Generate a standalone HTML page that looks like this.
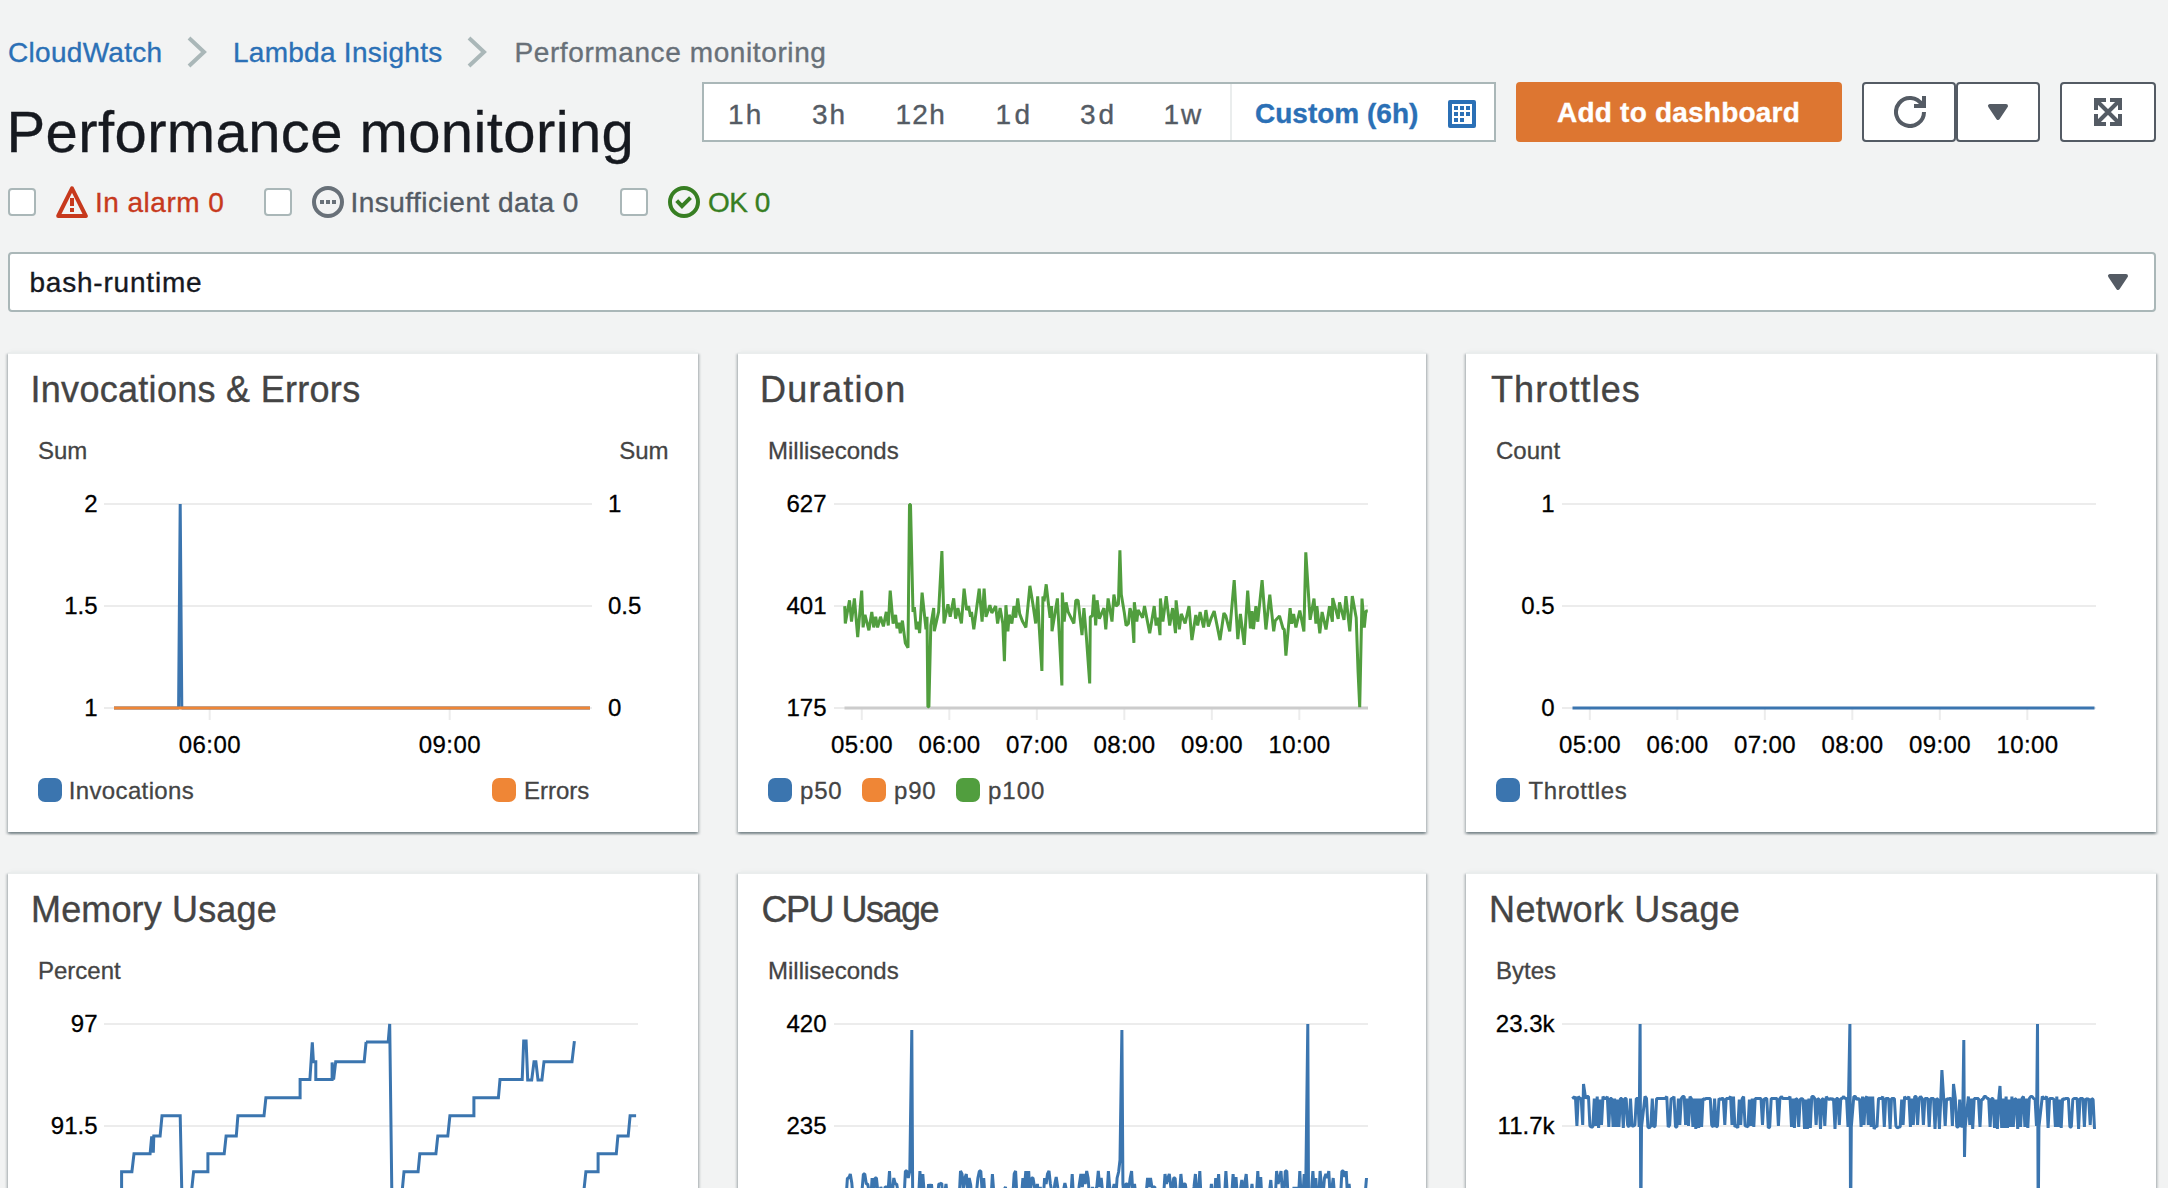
<!DOCTYPE html>
<html lang="en">
<head>
<meta charset="utf-8">
<title>CloudWatch - Lambda Insights - Performance monitoring</title>
<style>
*{box-sizing:border-box}
html,body{margin:0;padding:0}
body{-webkit-text-stroke:.35px;background:#f2f3f3;font-family:"Liberation Sans",sans-serif;color:#16191f;width:2168px;height:1188px;overflow:hidden}
#app{position:relative;width:2168px;height:1188px;overflow:hidden}
.abs{position:absolute;white-space:nowrap;line-height:1}
/* breadcrumb */
.bc{font-size:28px;top:39px}
.bc a,.lnk{color:#2b70b6;text-decoration:none}
.bc.cur{color:#687078}
.chev{position:absolute;top:36px;width:22px;height:32px}
/* title */
h1{position:absolute;margin:0;left:6.5px;top:102.5px;letter-spacing:.4px;font-size:58px;-webkit-text-stroke:.3px #16191f;font-weight:400;line-height:1;color:#16191f;white-space:nowrap}
/* time range */
.range{position:absolute;left:702px;top:82px;width:794px;height:60px;background:#fff;border:2px solid #aab7b8}
.range span{position:absolute;top:17px;font-size:28px;line-height:1;color:#545b64;white-space:nowrap}
.range .sep{position:absolute;left:526px;top:0;width:2px;height:56px;background:#eaeded}
.range .cus{font-weight:700;color:#2b70b6}
.range svg{position:absolute;left:744px;top:16px}
/* buttons */
.btn{position:absolute;top:82px;height:60px;border-radius:4px}
.btn.primary{left:1516px;width:326px;background:#dd7631;color:#fff;font-weight:700;font-size:28px;line-height:1}
.btn.primary span{position:absolute;left:41px;top:16.5px;letter-spacing:.22px;white-space:nowrap}
.btn.ic{background:#fff;border:2px solid #545b64}
.btn.ic svg{position:absolute}
/* alarms */
.cb{position:absolute;top:188px;width:28px;height:28px;background:#fff;border:2px solid #aab7b8;border-radius:4px}
.st{position:absolute;top:189px;font-size:28px;line-height:1;white-space:nowrap}
.sti{position:absolute;top:186px;width:32px;height:32px}
/* select */
.select{position:absolute;left:8px;top:252px;width:2148px;height:60px;background:#fff;border:2px solid #aab7b8;border-radius:4px}
.select span{position:absolute;left:19.4px;top:15px;letter-spacing:.8px;font-size:28px;line-height:1;color:#16191f}
.select svg{position:absolute;left:2096px;top:18px}
/* panels */
.panel{position:absolute;background:#fff;border-top:2px solid #eaeded;box-shadow:0 2px 2px 0 rgba(0,28,36,.3),2px 2px 2px 0 rgba(0,28,36,.15),-2px 2px 2px 0 rgba(0,28,36,.15),0 -3px 3px -2px #e9ecec}
.panel h2{position:absolute;margin:0;left:24px;top:18px;font-size:36px;font-weight:400;line-height:1;color:#444;white-space:nowrap}
.chart{position:absolute;left:0;top:0;overflow:visible;font-family:"Liberation Sans",sans-serif}
.tk{font-size:24px;fill:#000;stroke:#000;stroke-width:.3px}
.un{font-size:24px;fill:#444;stroke:#444;stroke-width:.3px}
.lg{font-size:24px;fill:#444;stroke:#444;stroke-width:.3px}

</style>
</head>
<body>
<div id="app">
<nav aria-label="Breadcrumbs">
<span class="abs bc" style="left:8px;letter-spacing:.3px"><a>CloudWatch</a></span>
<svg class="chev" style="left:186px" viewBox="0 0 22 32"><path d="M3 2 L18 16 L3 30" fill="none" stroke="#aab7b8" stroke-width="4"/></svg>
<span class="abs bc" style="left:233px;letter-spacing:.27px"><a>Lambda Insights</a></span>
<svg class="chev" style="left:466px" viewBox="0 0 22 32"><path d="M3 2 L18 16 L3 30" fill="none" stroke="#aab7b8" stroke-width="4"/></svg>
<span class="abs bc cur" style="left:514.5px;letter-spacing:.6px">Performance monitoring</span>
</nav>
<h1>Performance monitoring</h1>
<div class="range" role="group">
<span style="left:24px;letter-spacing:2.2px">1h</span>
<span style="left:108px;letter-spacing:2px">3h</span>
<span style="left:191.5px;letter-spacing:1.3px">12h</span>
<span style="left:291.5px;letter-spacing:3.5px">1d</span>
<span style="left:376px;letter-spacing:3px">3d</span>
<span style="left:459.5px;letter-spacing:2px">1w</span>
<i class="sep"></i>
<span class="cus" style="left:551px;top:16px">Custom (6h)</span>
<svg width="28" height="28" viewBox="0 0 28 28"><rect x="2" y="2" width="24" height="24" fill="none" stroke="#2b70b6" stroke-width="4" stroke-linejoin="round"/><g fill="#2b70b6"><rect x="6" y="6" width="4" height="4"/><rect x="12" y="6" width="4" height="4"/><rect x="18" y="6" width="4" height="4"/><rect x="6" y="12" width="4" height="4"/><rect x="12" y="12" width="4" height="4"/><rect x="18" y="12" width="4" height="4"/><rect x="6" y="18" width="4" height="4"/><rect x="12" y="18" width="4" height="4"/></g></svg>
</div>
<button class="btn primary" style="border:0;padding:0;font-family:inherit"><span>Add to dashboard</span></button>
<div class="btn ic" style="left:1862px;width:94px"><svg style="left:30px;top:12px" width="32" height="32" viewBox="0 0 16 16"><path d="M15 8a7 7 0 1 1-1-3.6" fill="none" stroke="#545b64" stroke-width="2"/><path d="M15 0v5h-5" fill="none" stroke="#545b64" stroke-width="2"/></svg></div>
<div class="btn ic" style="left:1956px;width:84px"><svg style="left:28px;top:18px" width="24" height="20" viewBox="0 0 24 20"><path d="M4 4h16l-8 12z" fill="#545b64" stroke="#545b64" stroke-width="4" stroke-linejoin="round"/></svg></div>
<div class="btn ic" style="left:2060px;width:96px"><svg style="left:32px;top:14px" width="28" height="28" viewBox="0 0 28 28"><g fill="none" stroke="#545b64" stroke-width="4"><path d="M2 12V2h10M16 2h10v10M26 16v10H16M12 26H2V16"/><path d="M3 3l22 22M25 3L3 25"/></g></svg></div>

<div class="cb" style="left:8px"></div>
<svg class="sti" style="left:56px" viewBox="0 0 16 16"><path d="M8 1.2 L14.9 15 H1.1 Z" fill="none" stroke="#c7391d" stroke-width="2" stroke-linejoin="round"/><rect x="7" y="6" width="2" height="4" fill="#c7391d"/><rect x="7" y="11" width="2" height="2" fill="#c7391d"/></svg>
<span class="st" style="left:95px;color:#c7391d;letter-spacing:.48px">In alarm 0</span>
<div class="cb" style="left:264px"></div>
<svg class="sti" style="left:312px" viewBox="0 0 16 16"><circle cx="8" cy="8" r="7" fill="none" stroke="#687078" stroke-width="2"/><rect x="4" y="7" width="2" height="2" fill="#687078"/><rect x="7" y="7" width="2" height="2" fill="#687078"/><rect x="10" y="7" width="2" height="2" fill="#687078"/></svg>
<span class="st" style="left:350.4px;color:#545b64;letter-spacing:.5px">Insufficient data 0</span>
<div class="cb" style="left:620px"></div>
<svg class="sti" style="left:668px" viewBox="0 0 16 16"><circle cx="8" cy="8" r="7" fill="none" stroke="#377e22" stroke-width="2"/><path d="M4.35 7.3 L7 10.1 L11.25 5.85" fill="none" stroke="#377e22" stroke-width="2"/></svg>
<span class="st" style="left:708px;color:#377e22;letter-spacing:-.5px">OK 0</span>

<div class="select" role="combobox"><span>bash-runtime</span><svg width="24" height="20" viewBox="0 0 24 20"><path d="M4 4h16l-8 12z" fill="#545b64" stroke="#545b64" stroke-width="4" stroke-linejoin="round"/></svg></div>

<main class="grid">
<section class="panel" style="left:8px;top:352px;width:690px;height:480px"><h2 style="left:22.5px;letter-spacing:0.29px">Invocations &amp; Errors</h2><svg class="chart" width="690" height="480" viewBox="8 354 690 480"><text x="38" y="459" class="un">Sum</text><text x="668.5" y="459" text-anchor="end" class="un">Sum</text><line x1="104" x2="592" y1="504" y2="504" stroke="#ececec" stroke-width="2"/><line x1="104" x2="592" y1="606" y2="606" stroke="#ececec" stroke-width="2"/><line x1="104" x2="592" y1="708" y2="708" stroke="#ececec" stroke-width="2"/><text x="97.5" y="512" text-anchor="end" class="tk">2</text><text x="97.5" y="614" text-anchor="end" class="tk">1.5</text><text x="97.5" y="716" text-anchor="end" class="tk">1</text><text x="608" y="512" text-anchor="start" class="tk">1</text><text x="608" y="614" text-anchor="start" class="tk">0.5</text><text x="608" y="716" text-anchor="start" class="tk">0</text><line x1="209.7" x2="209.7" y1="708" y2="720" stroke="#ececec" stroke-width="2"/><text x="209.89999999999998" y="752.5" text-anchor="middle" class="tk" letter-spacing=".4">06:00</text><line x1="449.7" x2="449.7" y1="708" y2="720" stroke="#ececec" stroke-width="2"/><text x="449.9" y="752.5" text-anchor="middle" class="tk" letter-spacing=".4">09:00</text><path d="M114 708 L178.6 708 L180.2 504 L181.8 708 L590 708" fill="none" stroke="#3b75af" stroke-width="3" stroke-linejoin="miter" stroke-miterlimit="1"/><line x1="114" x2="590" y1="708" y2="708" stroke="#ef8636" stroke-width="3"/><rect x="38" y="778" width="24" height="24" rx="7" fill="#3b75af"/><text x="68.8" y="799" class="lg" letter-spacing="0.35">Invocations</text><rect x="492" y="778" width="24" height="24" rx="7" fill="#ef8636"/><text x="524" y="799" class="lg" letter-spacing="0">Errors</text></svg></section>
<section class="panel" style="left:738px;top:352px;width:688px;height:480px"><h2 style="left:22px;letter-spacing:1.3px">Duration</h2><svg class="chart" width="688" height="480" viewBox="738 354 688 480"><text x="768" y="459" class="un">Milliseconds</text><line x1="834" x2="1368" y1="504" y2="504" stroke="#ececec" stroke-width="2"/><line x1="834" x2="1368" y1="606" y2="606" stroke="#ececec" stroke-width="2"/><line x1="834" x2="1368" y1="708" y2="708" stroke="#ececec" stroke-width="2"/><text x="826.5" y="512" text-anchor="end" class="tk">627</text><text x="826.5" y="614" text-anchor="end" class="tk">401</text><text x="826.5" y="716" text-anchor="end" class="tk">175</text><line x1="861.8" x2="861.8" y1="708" y2="720" stroke="#ececec" stroke-width="2"/><text x="862.0" y="752.5" text-anchor="middle" class="tk" letter-spacing=".4">05:00</text><line x1="949.3" x2="949.3" y1="708" y2="720" stroke="#ececec" stroke-width="2"/><text x="949.5" y="752.5" text-anchor="middle" class="tk" letter-spacing=".4">06:00</text><line x1="1036.8" x2="1036.8" y1="708" y2="720" stroke="#ececec" stroke-width="2"/><text x="1037.0" y="752.5" text-anchor="middle" class="tk" letter-spacing=".4">07:00</text><line x1="1124.3" x2="1124.3" y1="708" y2="720" stroke="#ececec" stroke-width="2"/><text x="1124.5" y="752.5" text-anchor="middle" class="tk" letter-spacing=".4">08:00</text><line x1="1211.8" x2="1211.8" y1="708" y2="720" stroke="#ececec" stroke-width="2"/><text x="1212.0" y="752.5" text-anchor="middle" class="tk" letter-spacing=".4">09:00</text><line x1="1299.3" x2="1299.3" y1="708" y2="720" stroke="#ececec" stroke-width="2"/><text x="1299.5" y="752.5" text-anchor="middle" class="tk" letter-spacing=".4">10:00</text><line x1="844.5" x2="1368" y1="708" y2="708" stroke="#ccc" stroke-width="3"/><path d="M844.7 606.1 L845.3 623.5 L849.5 600.3 L851.5 621.6 L854.4 598.4 L857.7 637.1 L861.7 590.6 L863.1 627.4 L865 614.8 L868.9 630.3 L871.8 611.9 L873.7 627.4 L875.7 616.8 L877.6 627.4 L880.5 616.8 L883.4 626.4 L886.3 611.9 L888.3 625.5 L890.2 590.6 L893.1 623.5 L895.6 614.8 L897 628.4 L898.9 622.6 L900.3 633.2 L902.4 620.6 L905.3 642.9 L908 647.7 L909.5 504.5 L910.5 504.5 L913 611.9 L914.4 607.1 L916.3 629.3 L918.3 621.6 L919.6 633.2 L922.1 592.6 L926 629.3 L927 616.8 L927.9 706.8 L928.9 706.8 L930.8 625.5 L933.7 608.1 L934.3 631.3 L938.6 611.9 L941.9 551 L944 623.5 L947.9 604.2 L950.2 616.8 L953.7 598.4 L955.6 618.7 L957.9 608.1 L961.4 623.5 L964.1 588.7 L966.6 610 L968.6 606.1 L970.5 616.8 L971.5 611.9 L973.8 629.3 L979.2 588.7 L982.1 621.6 L984.1 588.7 L986 616.8 L989.9 605.2 L991.8 612.9 L995.7 606.1 L997.6 623.5 L1000.1 608.1 L1002.8 623.5 L1004.4 661.3 L1005.9 605.2 L1007.9 631.3 L1009.2 614.8 L1011.9 623.5 L1013.9 606.1 L1015.8 617.7 L1017.7 598.4 L1019.7 613.9 L1022.6 621.6 L1025.9 627.4 L1029.9 585.8 L1033.2 606.1 L1035.7 623.5 L1037.7 596.4 L1039 623.5 L1041.9 671 L1042.9 596.4 L1044.1 601.3 L1046.2 584.3 L1048.7 606.1 L1050.1 617.7 L1051.6 606.1 L1052 631.3 L1057.4 598.4 L1060.7 662.2 L1061.9 685.5 L1062.3 592.6 L1064.2 621.6 L1066.1 602.3 L1068.1 611.9 L1073.9 623.5 L1075.8 600.3 L1078.1 600.3 L1082 635.2 L1083.9 608.1 L1086.4 637.1 L1089.7 683.5 L1090.3 616.8 L1092.3 615.8 L1093.8 594.5 L1095.7 625.5 L1097.1 600.3 L1099.4 618.7 L1103.9 608.1 L1105.8 629.3 L1108.1 598.4 L1112 621.6 L1113.9 594.5 L1116.1 606.1 L1118.4 604.2 L1119.9 550.4 L1121.3 594.5 L1124.2 611.9 L1126.1 625.5 L1128.4 623.5 L1130 608.1 L1131.9 613.9 L1133.9 642.9 L1134.3 602.3 L1136.8 621.6 L1138.1 610 L1142.6 617.7 L1144.5 606.1 L1149.7 633.2 L1154.2 606.1 L1156.1 625.5 L1158.1 617.7 L1160 635.2 L1160.4 598.4 L1162.9 621.6 L1166.2 596.1 L1169.7 625.5 L1172.6 608.1 L1175.5 633.2 L1176.1 600.3 L1179.3 629.3 L1181.3 613.9 L1185.1 623.5 L1189 606.1 L1191.9 640.1 L1195.8 614.9 L1197.7 625.6 L1200.1 612 L1203.6 627.5 L1205.9 610.1 L1208.4 626.5 L1211.3 617.8 L1214.2 611.1 L1220 640.1 L1223.9 613 L1225.8 615.9 L1229.7 631.4 L1234.2 580.1 L1237.8 639.1 L1240.4 614 L1244.2 644.9 L1247.7 590.7 L1250.4 628.5 L1252 611.1 L1253.5 629.1 L1255.9 606.2 L1257.8 621.7 L1262.1 580.1 L1265.9 629.5 L1269.8 594.6 L1273.7 631.4 L1275.2 620.7 L1279.5 615.9 L1283 628.5 L1284.3 629.5 L1285.9 655.6 L1290.1 608.1 L1291.7 623.6 L1293.6 614 L1295.9 627.5 L1299.8 610.5 L1303.9 631.4 L1305.8 552.4 L1310.1 619.8 L1314 598.5 L1315.9 623.6 L1316.9 606.2 L1319.8 633.3 L1322.1 612 L1326 629.5 L1329.5 606.2 L1332.4 621.7 L1332.7 598.1 L1338.2 618.8 L1339.5 602.3 L1344 619.8 L1345.9 596.1 L1349.8 631.4 L1352.3 596.1 L1356.2 617.8 L1358.1 672.1 L1359.7 707.3 L1362 598.5 L1364.3 627.5 L1365.9 611.1 L1367.8 611.1" fill="none" stroke="#519e3e" stroke-width="3" stroke-linejoin="bevel"/><rect x="768" y="778" width="24" height="24" rx="7" fill="#3b75af"/><text x="800" y="799" class="lg" letter-spacing="0.8">p50</text><rect x="862" y="778" width="24" height="24" rx="7" fill="#ef8636"/><text x="894" y="799" class="lg" letter-spacing="0.8">p90</text><rect x="956" y="778" width="24" height="24" rx="7" fill="#519e3e"/><text x="988" y="799" class="lg" letter-spacing="1">p100</text></svg></section>
<section class="panel" style="left:1466px;top:352px;width:690px;height:480px"><h2 style="left:25px;letter-spacing:1.1px">Throttles</h2><svg class="chart" width="690" height="480" viewBox="1466 354 690 480"><text x="1496" y="459" class="un">Count</text><line x1="1562" x2="2096" y1="504" y2="504" stroke="#ececec" stroke-width="2"/><line x1="1562" x2="2096" y1="606" y2="606" stroke="#ececec" stroke-width="2"/><line x1="1562" x2="2096" y1="708" y2="708" stroke="#ececec" stroke-width="2"/><text x="1554.5" y="512" text-anchor="end" class="tk">1</text><text x="1554.5" y="614" text-anchor="end" class="tk">0.5</text><text x="1554.5" y="716" text-anchor="end" class="tk">0</text><line x1="1589.8" x2="1589.8" y1="708" y2="720" stroke="#ececec" stroke-width="2"/><text x="1590.0" y="752.5" text-anchor="middle" class="tk" letter-spacing=".4">05:00</text><line x1="1677.3" x2="1677.3" y1="708" y2="720" stroke="#ececec" stroke-width="2"/><text x="1677.5" y="752.5" text-anchor="middle" class="tk" letter-spacing=".4">06:00</text><line x1="1764.8" x2="1764.8" y1="708" y2="720" stroke="#ececec" stroke-width="2"/><text x="1765.0" y="752.5" text-anchor="middle" class="tk" letter-spacing=".4">07:00</text><line x1="1852.3" x2="1852.3" y1="708" y2="720" stroke="#ececec" stroke-width="2"/><text x="1852.5" y="752.5" text-anchor="middle" class="tk" letter-spacing=".4">08:00</text><line x1="1939.8" x2="1939.8" y1="708" y2="720" stroke="#ececec" stroke-width="2"/><text x="1940.0" y="752.5" text-anchor="middle" class="tk" letter-spacing=".4">09:00</text><line x1="2027.3" x2="2027.3" y1="708" y2="720" stroke="#ececec" stroke-width="2"/><text x="2027.5" y="752.5" text-anchor="middle" class="tk" letter-spacing=".4">10:00</text><line x1="1572.5" x2="2094.5" y1="708" y2="708" stroke="#3b75af" stroke-width="3"/><rect x="1496" y="778" width="24" height="24" rx="7" fill="#3b75af"/><text x="1528.5" y="799" class="lg" letter-spacing="0.6">Throttles</text></svg></section>
<section class="panel" style="left:8px;top:872px;width:690px;height:480px"><h2 style="left:23px;letter-spacing:0.15px">Memory Usage</h2><svg class="chart" width="690" height="480" viewBox="8 874 690 480"><text x="38" y="979" class="un">Percent</text><line x1="104" x2="638" y1="1024" y2="1024" stroke="#ececec" stroke-width="2"/><line x1="104" x2="638" y1="1126" y2="1126" stroke="#ececec" stroke-width="2"/><text x="97.5" y="1032" text-anchor="end" class="tk">97</text><text x="97.5" y="1134" text-anchor="end" class="tk">91.5</text><path d="M121.6 1205.7 L121.6 1171.7 L131.9 1171.7 L134 1153.8 L150.1 1153.8 L151.7 1136.4 L153.3 1152.7 L153.8 1136.1 L160.1 1136.1 L162 1115.8 L180.2 1115.8 L182.1 1205.7" fill="none" stroke="#3b75af" stroke-width="3" stroke-linejoin="miter"/><path d="M190 1205.7 L193.6 1171.7 L207.9 1171.7 L207.9 1153.8 L224.2 1153.8 L226.1 1136.1 L236.3 1136.1 L237.9 1115.8 L264 1115.8 L265.9 1097.8 L300.1 1097.8 L300.1 1079.6 L309.9 1079.6 L312.3 1042.4 L313.4 1061.7 L315.8 1061.7 L315.8 1079.6 L332.1 1079.6 L332.1 1062.5 L333.6 1079.6 L335.7 1061.7 L364.2 1061.7 L366.1 1041.9 L366 1041.9 L388.2 1041.9 L389.7 1024 L392 1205.7" fill="none" stroke="#3b75af" stroke-width="3" stroke-linejoin="miter"/><path d="M400.8 1205.7 L404 1171.7 L418.1 1171.7 L419.8 1153.8 L435.9 1153.8 L437.8 1136.1 L447.8 1136.1 L449.9 1115.8 L473.9 1115.8 L473.9 1097.8 L498.4 1097.8 L500 1079.6 L522.2 1079.6 L523.7 1041.1 L526.1 1041.1 L527.7 1079.9 L531.7 1079.9 L534 1061.7 L535.9 1061.7 L538 1079.9 L541.9 1079.9 L544 1061.7 L572 1061.7 L574.4 1041.1" fill="none" stroke="#3b75af" stroke-width="3" stroke-linejoin="miter"/><path d="M582.3 1205.7 L585.9 1171.7 L598.1 1171.7 L598.1 1153.8 L616.3 1153.8 L617.9 1136.1 L628.2 1136.1 L630.1 1115.8 L636.1 1115.8" fill="none" stroke="#3b75af" stroke-width="3" stroke-linejoin="miter"/></svg></section>
<section class="panel" style="left:738px;top:872px;width:688px;height:480px"><h2 style="left:23.5px;letter-spacing:-1.5px">CPU Usage</h2><svg class="chart" width="688" height="480" viewBox="738 874 688 480"><text x="768" y="979" class="un">Milliseconds</text><line x1="834" x2="1368" y1="1024" y2="1024" stroke="#ececec" stroke-width="2"/><line x1="834" x2="1368" y1="1126" y2="1126" stroke="#ececec" stroke-width="2"/><text x="826.5" y="1032" text-anchor="end" class="tk">420</text><text x="826.5" y="1134" text-anchor="end" class="tk">235</text><path d="M844.5 1198 L846 1200 L847.4 1178 L848.9 1178 L850.3 1174 L851.8 1183 L853.2 1200 L854.7 1190 L856.1 1200 L857.6 1192 L859 1190 L860.5 1192 L861.9 1192 L863.4 1174 L864.8 1174 L866.3 1184 L867.7 1184 L869.2 1192 L870.6 1202 L872.1 1178 L873.5 1199 L875 1178 L876.4 1178 L877.9 1192 L879.3 1199 L880.8 1187 L882.2 1192 L883.7 1198 L885.1 1187 L886.6 1187 L888 1192 L889.5 1171 L890.9 1200 L892.4 1192 L893.8 1178 L895.3 1184 L896.7 1184 L898.2 1193 L899.6 1199 L901.1 1196 L902.5 1202 L904 1200 L905.4 1171 L906.9 1171 L908.3 1178 L909.8 1171 L911.8 1030 L912.7 1200 L914.1 1192 L915.6 1202 L917 1200 L918.5 1199 L919.9 1171 L921.4 1192 L922.8 1174 L924.3 1194 L925.7 1190 L927.2 1202 L928.6 1184 L930.1 1196 L931.5 1184 L933 1202 L934.4 1200 L935.9 1198 L937.3 1200 L938.8 1184 L940.2 1184 L941.7 1183 L943.1 1202 L944.6 1194 L946 1184 L947.5 1198 L948.9 1198 L950.4 1200 L951.8 1192 L953.3 1200 L954.7 1202 L956.2 1202 L957.6 1196 L959.1 1200 L960.5 1171 L962 1174 L963.4 1190 L964.9 1178 L966.3 1174 L967.8 1192 L969.2 1178 L970.7 1185 L972.1 1202 L973.6 1200 L975 1194 L976.5 1192 L977.9 1178 L979.4 1171 L980.8 1171 L982.3 1194 L983.7 1178 L985.2 1200 L986.6 1202 L988.1 1189 L989.5 1196 L991 1200 L992.4 1174 L993.9 1194 L995.3 1202 L996.8 1202 L998.2 1198 L999.7 1198 L1001.1 1196 L1002.6 1196 L1004 1190 L1005.5 1187 L1006.9 1202 L1008.4 1190 L1009.8 1200 L1011.3 1190 L1012.7 1198 L1014.2 1174 L1015.6 1171 L1017.1 1200 L1018.5 1198 L1020 1200 L1021.4 1198 L1022.9 1178 L1024.3 1190 L1025.8 1171 L1027.2 1192 L1028.7 1171 L1030.1 1198 L1031.6 1178 L1033 1178 L1034.5 1187 L1035.9 1190 L1037.4 1184 L1038.8 1199 L1040.3 1187 L1041.7 1200 L1043.2 1200 L1044.6 1178 L1046.1 1184 L1047.5 1174 L1049 1171 L1050.4 1184 L1051.9 1192 L1053.3 1199 L1054.8 1184 L1056.2 1177 L1057.7 1187 L1059.1 1199 L1060.6 1200 L1062 1200 L1063.5 1190 L1064.9 1183 L1066.4 1190 L1067.8 1190 L1069.3 1198 L1070.7 1200 L1072.2 1174 L1073.6 1198 L1075.1 1199 L1076.5 1196 L1078 1196 L1079.4 1184 L1080.9 1174 L1082.3 1187 L1083.8 1174 L1085.2 1184 L1086.7 1171 L1088.1 1178 L1089.6 1198 L1091 1196 L1092.5 1187 L1093.9 1196 L1095.4 1190 L1096.8 1187 L1098.3 1171 L1099.7 1187 L1101.2 1178 L1102.6 1192 L1104.1 1192 L1105.5 1200 L1107 1196 L1108.4 1171 L1109.9 1190 L1111.3 1194 L1112.8 1190 L1114.2 1184 L1115.7 1200 L1117.1 1178 L1118.6 1172 L1120 1160 L1121.9 1030 L1122.9 1184 L1124.4 1199 L1125.8 1184 L1127.3 1184 L1128.7 1190 L1130.2 1178 L1131.6 1171 L1133.1 1199 L1134.5 1184 L1136 1196 L1137.4 1200 L1138.9 1198 L1140.3 1191 L1141.8 1196 L1143.2 1193 L1144.7 1198 L1146.1 1194 L1147.6 1178 L1149 1187 L1150.5 1178 L1151.9 1187 L1153.4 1187 L1154.8 1187 L1156.3 1200 L1157.7 1199 L1159.2 1194 L1160.6 1196 L1162.1 1192 L1163.5 1198 L1165 1174 L1166.4 1184 L1167.9 1178 L1169.3 1174 L1170.8 1187 L1172.2 1192 L1173.7 1178 L1175.1 1178 L1176.6 1198 L1178 1200 L1179.5 1194 L1180.9 1174 L1182.4 1190 L1183.8 1184 L1185.3 1184 L1186.7 1194 L1188.2 1196 L1189.6 1194 L1191.1 1199 L1192.5 1198 L1194 1187 L1195.4 1174 L1196.9 1196 L1198.3 1196 L1199.8 1171 L1201.2 1202 L1202.7 1199 L1204.1 1202 L1205.6 1196 L1207 1190 L1208.5 1198 L1209.9 1200 L1211.4 1184 L1212.8 1198 L1214.3 1202 L1215.7 1178 L1217.2 1194 L1218.6 1174 L1220.1 1202 L1221.5 1196 L1223 1194 L1224.4 1200 L1225.9 1171 L1227.3 1194 L1228.8 1194 L1230.2 1198 L1231.7 1196 L1233.1 1174 L1234.6 1194 L1236 1177 L1237.5 1200 L1238.9 1194 L1240.4 1190 L1241.8 1180 L1243.3 1194 L1244.7 1184 L1246.2 1174 L1247.6 1194 L1249.1 1190 L1250.5 1196 L1252 1184 L1253.4 1200 L1254.9 1192 L1256.3 1198 L1257.8 1171 L1259.2 1200 L1260.7 1177 L1262.1 1202 L1263.6 1196 L1265 1200 L1266.5 1196 L1267.9 1196 L1269.4 1192 L1270.8 1180 L1272.3 1199 L1273.7 1200 L1275.2 1200 L1276.6 1171 L1278.1 1184 L1279.5 1178 L1281 1171 L1282.4 1192 L1283.9 1196 L1285.3 1171 L1286.8 1171 L1288.2 1200 L1289.7 1196 L1291.1 1196 L1292.6 1200 L1294 1187 L1295.5 1194 L1296.9 1187 L1298.4 1200 L1299.8 1171 L1301.3 1200 L1302.7 1199 L1304.2 1174 L1305.6 1199 L1307.8 1024 L1308.5 1194 L1310 1200 L1311.4 1192 L1312.9 1171 L1314.3 1194 L1315.8 1178 L1317.2 1199 L1318.7 1200 L1320.1 1171 L1321.6 1187 L1323 1196 L1324.5 1178 L1325.9 1174 L1327.4 1178 L1328.8 1171 L1330.3 1200 L1331.7 1190 L1333.2 1178 L1334.6 1196 L1336.1 1198 L1337.5 1202 L1339 1194 L1340.4 1200 L1341.9 1171 L1343.3 1171 L1344.8 1177 L1346.2 1171 L1347.7 1200 L1349.1 1184 L1350.6 1200 L1352 1202 L1353.5 1198 L1354.9 1202 L1356.4 1190 L1357.8 1200 L1359.3 1198 L1360.7 1200 L1362.2 1192 L1363.6 1200 L1365.1 1195 L1366.5 1178" fill="none" stroke="#3b75af" stroke-width="3" stroke-linejoin="bevel"/></svg></section>
<section class="panel" style="left:1466px;top:872px;width:690px;height:480px"><h2 style="left:23px;letter-spacing:0.4px">Network Usage</h2><svg class="chart" width="690" height="480" viewBox="1466 874 690 480"><text x="1496" y="979" class="un">Bytes</text><line x1="1562" x2="2096" y1="1024" y2="1024" stroke="#ececec" stroke-width="2"/><line x1="1562" x2="2096" y1="1126" y2="1126" stroke="#ececec" stroke-width="2"/><text x="1554.5" y="1032" text-anchor="end" class="tk">23.3k</text><text x="1554.5" y="1134" text-anchor="end" class="tk">11.7k</text><path d="M1572.5 1096.5 L1574 1098.5 L1575.4 1096.5 L1576.9 1126 L1578.3 1096.5 L1579.8 1098.5 L1581.2 1098.5 L1582.7 1125 L1583.5 1084 L1585.6 1098.5 L1587 1096.5 L1588.5 1096.5 L1589.9 1126 L1591.4 1127 L1592.8 1127 L1594.3 1098.5 L1595.7 1126 L1597.2 1096.5 L1598.6 1128 L1600.1 1099.5 L1601.5 1125 L1603 1096.5 L1604.4 1098.5 L1605.9 1098.5 L1607.3 1096.5 L1608.8 1127 L1610.2 1098.5 L1611.7 1098.5 L1613.1 1127 L1614.6 1098.5 L1616 1127 L1617.5 1099.5 L1618.9 1127 L1620.4 1098.5 L1621.8 1098.5 L1623.3 1128 L1624.7 1098.5 L1626.2 1098.5 L1627.6 1125 L1629.1 1127 L1630.5 1098.5 L1632 1126 L1633.4 1126 L1634.9 1125 L1636.3 1098.5 L1637.8 1098.5 L1639.2 1127 L1640.1 1024 L1640.8 1230 L1641.5 1127 L1645 1096.5 L1646.5 1098.5 L1647.9 1127 L1649.4 1128 L1650.8 1126 L1652.3 1098.5 L1653.7 1127 L1655.2 1126 L1656.6 1098.5 L1658.1 1098.5 L1659.5 1098.5 L1661 1098.5 L1662.4 1098.5 L1663.9 1098.5 L1665.3 1098.5 L1666.8 1096.5 L1668.2 1127 L1669.7 1125 L1671.1 1098.5 L1672.6 1098.5 L1674 1096.5 L1675.5 1127 L1676.9 1127 L1678.4 1098.5 L1679.8 1125 L1681.3 1098.5 L1682.7 1096.5 L1684.2 1096.5 L1685.6 1125 L1687.1 1098.5 L1688.5 1126 L1690 1096.5 L1691.4 1098.5 L1692.9 1127 L1694.3 1098.5 L1695.8 1129 L1697.2 1098.5 L1698.7 1128 L1700.1 1098.5 L1701.6 1127 L1703 1098.5 L1704.5 1099.5 L1705.9 1098.5 L1707.4 1098.5 L1708.8 1098.5 L1710.3 1098.5 L1711.7 1125 L1713.2 1127 L1714.6 1098.5 L1716.1 1127 L1717.5 1126 L1719 1098.5 L1720.4 1099.5 L1721.9 1098.5 L1723.3 1098.5 L1724.8 1125 L1726.2 1098.5 L1727.7 1098.5 L1729.1 1098.5 L1730.6 1096.5 L1732 1125 L1733.5 1096.5 L1734.9 1127 L1736.4 1125 L1737.8 1128 L1739.3 1099.5 L1740.7 1125 L1742.2 1098.5 L1743.6 1096.5 L1745.1 1126 L1746.5 1126 L1748 1127 L1749.4 1099.5 L1750.9 1126 L1752.3 1098.5 L1753.8 1127 L1755.2 1098.5 L1756.7 1098.5 L1758.1 1098.5 L1759.6 1098.5 L1761 1098.5 L1762.5 1125 L1763.9 1099.5 L1765.4 1098.5 L1766.8 1098.5 L1768.3 1128 L1769.7 1127 L1771.2 1098.5 L1772.6 1098.5 L1774.1 1098.5 L1775.5 1098.5 L1777 1098.5 L1778.4 1126 L1779.9 1098.5 L1781.3 1096.5 L1782.8 1098.5 L1784.2 1098.5 L1785.7 1098.5 L1787.1 1098.5 L1788.6 1098.5 L1790 1096.5 L1791.5 1127 L1792.9 1098.5 L1794.4 1128 L1795.8 1098.5 L1797.3 1099.5 L1798.7 1127 L1800.2 1099.5 L1801.6 1098.5 L1803.1 1099.5 L1804.5 1129 L1806 1099.5 L1807.4 1129 L1808.9 1098.5 L1810.3 1128 L1811.8 1096.5 L1813.2 1096.5 L1814.7 1098.5 L1816.1 1125 L1817.6 1098.5 L1819 1099.5 L1820.5 1129 L1821.9 1099.5 L1823.4 1098.5 L1824.8 1126 L1826.3 1096.5 L1827.7 1098.5 L1829.2 1099.5 L1830.6 1098.5 L1832.1 1099.5 L1833.5 1098.5 L1835 1129 L1836.4 1098.5 L1837.9 1098.5 L1839.3 1125 L1840.8 1098.5 L1842.2 1098.5 L1843.7 1096.5 L1845.1 1098.5 L1846.6 1098.5 L1848 1127 L1849.9 1024 L1850.6 1230 L1851.3 1127 L1853.8 1096.5 L1855.3 1096.5 L1856.7 1099.5 L1858.2 1098.5 L1859.6 1099.5 L1861.1 1127 L1862.5 1096.5 L1864 1125 L1865.4 1098.5 L1866.9 1096.5 L1868.3 1125 L1869.8 1096.5 L1871.2 1127 L1872.7 1096.5 L1874.1 1129 L1875.6 1126 L1877 1127 L1878.5 1098.5 L1879.9 1098.5 L1881.4 1098.5 L1882.8 1096.5 L1884.3 1127 L1885.7 1098.5 L1887.2 1098.5 L1888.6 1098.5 L1890.1 1129 L1891.5 1098.5 L1893 1098.5 L1894.4 1098.5 L1895.9 1126 L1897.3 1128 L1898.8 1127 L1900.2 1127 L1901.7 1099.5 L1903.1 1125 L1904.6 1096.5 L1906 1098.5 L1907.5 1098.5 L1908.9 1096.5 L1910.4 1127 L1911.8 1098.5 L1913.3 1125 L1914.7 1096.5 L1916.2 1096.5 L1917.6 1125 L1919.1 1098.5 L1920.5 1096.5 L1922 1098.5 L1923.4 1125 L1924.9 1098.5 L1926.3 1098.5 L1927.8 1098.5 L1929.2 1127 L1930.7 1098.5 L1932.1 1098.5 L1933.6 1098.5 L1935 1129 L1936.5 1098.5 L1937.9 1099.5 L1939.4 1129 L1940.8 1098.5 L1941.9 1070 L1943.7 1098.5 L1945.2 1126 L1946.6 1098.5 L1948.1 1099.5 L1949.5 1098.5 L1951 1098.5 L1952.4 1126 L1953.5 1084 L1955.3 1098.5 L1956.8 1127 L1958.2 1127 L1959.7 1099.5 L1961.1 1127 L1962.6 1125 L1963.8 1040 L1964.5 1157 L1965.2 1127 L1968.4 1096.5 L1969.8 1125 L1971.3 1098.5 L1972.7 1129 L1974.2 1098.5 L1975.6 1098.5 L1977.1 1098.5 L1978.5 1098.5 L1980 1127 L1981.4 1099.5 L1982.9 1099.5 L1984.3 1096.5 L1985.8 1096.5 L1987.2 1098.5 L1988.7 1098.5 L1990.1 1127 L1991.6 1098.5 L1993 1098.5 L1994.5 1128 L1995.9 1099.5 L1997.4 1129 L1998.8 1098.5 L2000 1086 L2001.7 1128 L2003.2 1098.5 L2004.6 1128 L2006.1 1096.5 L2007.5 1128 L2009 1099.5 L2010.4 1127 L2011.9 1096.5 L2013.3 1127 L2014.8 1098.5 L2016.2 1099.5 L2017.7 1129 L2019.1 1098.5 L2020.6 1127 L2022 1098.5 L2023.5 1096.5 L2024.9 1127 L2026.4 1098.5 L2027.8 1128 L2029.3 1098.5 L2030.7 1096.5 L2032.2 1096.5 L2033.6 1098.5 L2035.1 1099.5 L2036.5 1126 L2037.5 1024 L2038.2 1230 L2038.9 1127 L2042.3 1096.5 L2043.8 1098.5 L2045.2 1098.5 L2046.7 1096.5 L2048.1 1128 L2049.6 1098.5 L2051 1098.5 L2052.5 1098.5 L2053.9 1099.5 L2055.4 1127 L2056.8 1096.5 L2058.3 1127 L2059.7 1099.5 L2061.2 1128 L2062.6 1098.5 L2064.1 1099.5 L2065.5 1098.5 L2067 1098.5 L2068.4 1098.5 L2069.9 1127 L2071.3 1127 L2072.8 1099.5 L2074.2 1098.5 L2075.7 1098.5 L2077.1 1098.5 L2078.6 1129 L2080 1098.5 L2081.5 1098.5 L2082.9 1098.5 L2084.4 1127 L2085.8 1098.5 L2087.3 1099.5 L2088.7 1098.5 L2090.2 1125 L2091.6 1098.5 L2093.1 1099.5 L2094.5 1129" fill="none" stroke="#3b75af" stroke-width="3" stroke-linejoin="bevel"/></svg></section>
</main>
</div>
</body>
</html>
